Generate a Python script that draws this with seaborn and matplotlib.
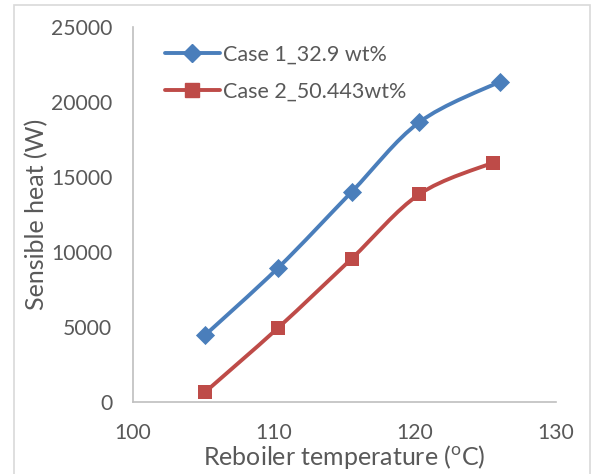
import numpy as np
import pandas as pd
import seaborn as sns
import matplotlib.pyplot as plt
from matplotlib.path import Path
from matplotlib.patches import PathPatch, Rectangle
from matplotlib.lines import Line2D

# values
temp_case1 = [105.1, 110.3, 115.5, 120.3, 126.0]
heat_case1 = [4450, 8950, 14000, 18650, 21350]
temp_case2 = [105.1, 110.3, 115.5, 120.3, 125.5]
heat_case2 = [650, 4950, 9550, 13850, 15950]
series_names = ['Case 1_32.9 wt%', 'Case 2_50.443wt%']
x_ticks = [100, 110, 120, 130]
y_ticks = [0, 5000, 10000, 15000, 20000, 25000]

blue = '#4A7EBB'
red = '#BE4B48'
grey_txt = '#595959'

sns.set_theme(style='white')
plt.rcParams['font.family'] = ['Lato', 'DejaVu Sans']
plt.rcParams['mathtext.fontset'] = 'custom'
plt.rcParams['mathtext.rm'] = 'Lato'


def smooth_path(xs, ys):
    # Excel-style smoothed line: bezier segments through the points
    pts = np.column_stack([xs, ys]).astype(float)
    ext = np.vstack([pts[0], pts, pts[-1]])
    verts = [pts[0]]
    codes = [Path.MOVETO]
    for i in range(len(pts) - 1):
        p0, p1, p2, p3 = ext[i], ext[i + 1], ext[i + 2], ext[i + 3]
        verts += [p1 + (p2 - p0) / 6, p2 - (p3 - p1) / 6, p2]
        codes += [Path.CURVE4] * 3
    return Path(verts, codes)


fig = plt.figure(figsize=(5.92, 4.74), dpi=100)
ax = fig.add_axes([133 / 592, 72 / 474, 423 / 592, 375 / 474])

df1 = pd.DataFrame({'temp': temp_case1, 'heat': heat_case1})
df2 = pd.DataFrame({'temp': temp_case2, 'heat': heat_case2})

for df, col in [(df1, blue), (df2, red)]:
    ax.add_patch(PathPatch(smooth_path(df['temp'], df['heat']),
                           fill=False, edgecolor=col, lw=2.8, zorder=2))

sns.scatterplot(data=df1, x='temp', y='heat', marker='D', s=95,
                color=blue, edgecolor=blue, linewidth=0, ax=ax, zorder=3)
sns.scatterplot(data=df2, x='temp', y='heat', marker='s', s=100,
                color=red, edgecolor=red, linewidth=0, ax=ax, zorder=3)

ax.set_xlim(100, 130)
ax.set_ylim(0, 25000)
ax.set_xticks(x_ticks)
ax.set_yticks(y_ticks)
ax.tick_params(length=0, pad=15, labelsize=15.2, labelcolor=grey_txt)
ax.set_xlabel(r'Reboiler temperature ($^{\mathrm{o}}$C)', fontsize=18,
              color=grey_txt, labelpad=0)
ax.set_ylabel('Sensible heat (W)', fontsize=18, color=grey_txt, labelpad=2)

for s in ['top', 'right']:
    ax.spines[s].set_visible(False)
for s in ['left', 'bottom']:
    ax.spines[s].set_color('#BFBFBF')
    ax.spines[s].set_linewidth(1.2)

handles = [
    Line2D([], [], color=blue, lw=2.8, marker='D', markersize=9),
    Line2D([], [], color=red, lw=2.8, marker='s', markersize=9.5),
]
leg = ax.legend(handles, series_names, loc='upper left',
                bbox_to_anchor=(0.035, 1.0), frameon=False, fontsize=15.5,
                handlelength=2.55, handletextpad=0.12, labelspacing=0.8,
                borderpad=0.3)
for t in leg.get_texts():
    t.set_color(grey_txt)

# light chart-area border like the spreadsheet export
fig.patches.append(Rectangle((14 / 592, -0.02), 576 / 592, 1.01,
                             transform=fig.transFigure, fill=False,
                             edgecolor='#D9D9D9', lw=1.2))

fig.savefig('out.png', dpi=100)
